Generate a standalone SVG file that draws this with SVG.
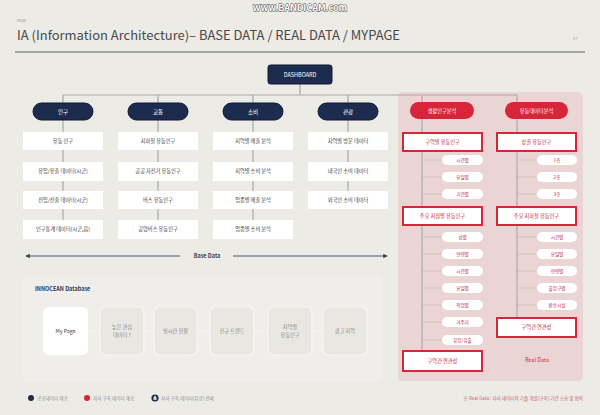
<svg xmlns="http://www.w3.org/2000/svg" width="600" height="415" viewBox="0 0 600 415">
  <style>
    text { font-family: "Noto Sans CJK KR", "Noto Sans", "Liberation Sans", sans-serif; }
    .bg { fill: #ecebe6; }
    .navy { fill: #1d2c4e; stroke: #0f1a33; stroke-width: 1; }
    .navy-t { fill: #ffffff; font-size: 5.5px; text-anchor: middle; }
    .box { fill: #ffffff; }
    .box-t { fill: #3a3a3a; font-size: 5.2px; text-anchor: middle; }
    .redpill { fill: #d7253a; }
    .red-t { fill: #ffffff; font-size: 5.2px; text-anchor: middle; }
    .redbox { fill: #ffffff; stroke: #d7253a; stroke-width: 2; }
    .redbox-t { fill: #c4243a; font-size: 5.2px; text-anchor: middle; }
    .sub { fill: #ffffff; }
    .sub-t { fill: #c4243a; font-size: 4.6px; text-anchor: middle; }
    .link { stroke: #a9a9a9; stroke-width: 1.2; fill: none; }
    .spine { stroke: #b9b6b6; stroke-width: 1.6; fill: none; }
    .branch { stroke: #b9b6b6; stroke-width: 1; stroke-dasharray: 1.5 1; fill: none; }
    .card { fill: #e9e7e2; stroke: #f7f6f3; stroke-width: 1.2; }
    .card-t { fill: #8a8883; font-size: 5.2px; text-anchor: middle; }
    .legend-t { fill: #8b8b8b; font-size: 4.6px; }
  </style>
  <defs>
    <marker id="arrow" viewBox="0 0 6 6" refX="5" refY="3" markerWidth="5" markerHeight="5" orient="auto-start-reverse">
      <path d="M0,0 L6,3 L0,6 z" fill="#3d4250"/>
    </marker>
  </defs>

  <rect class="bg" x="0" y="0" width="600" height="415"/>

  <!-- capture watermark -->
  <text x="300" y="11" font-size="9" font-weight="bold" text-anchor="middle" fill="#ffffff" stroke="#333333" stroke-width="0.8" paint-order="stroke" font-family="Liberation Sans, sans-serif">www.BANDICAM.com</text>

  <!-- header -->
  <g id="header">
    <text x="17" y="22" font-size="4" fill="#9a9a9a" font-family="Liberation Sans, sans-serif">NOW</text>
    <text x="17" y="40" font-size="12.5" fill="#4a4a4a" textLength="383" lengthAdjust="spacingAndGlyphs" font-family="Liberation Sans, sans-serif">IA (Information Architecture)– BASE DATA / REAL DATA / MYPAGE</text>
    <text x="573" y="40" font-size="4" fill="#a5a5a5" font-family="Liberation Sans, sans-serif">07</text>
    <line x1="15" y1="52" x2="585" y2="52" stroke="#8e8e8e" stroke-width="1.6"/>
  </g>

  <!-- real data area -->
  <rect x="398" y="92" width="185" height="289" rx="5" fill="#ebd5d4"/>

  <!-- base data panel -->
  <rect x="23" y="276" width="359" height="106" rx="4" fill="#efeeea"/>

  <!-- connectors -->
  <g id="connectors">
    <path class="link" d="M300,84 V95 M63,95 H517 M63,95 V103 M158,95 V103 M253,95 V103 M348,95 V103"/>
    <path class="link" d="M63,120 V132 M63,150 V162 M63,181 V191 M63,209 V220"/>
    <path class="link" d="M158,120 V132 M158,150 V162 M158,181 V191 M158,209 V220"/>
    <path class="link" d="M253,120 V132 M253,150 V162 M253,181 V191 M253,209 V220"/>
    <path class="link" d="M348,120 V132 M348,150 V162 M348,181 V191"/>
    <path class="spine" d="M422,95 V350 M517,95 V317"/>
    <path class="branch" d="M422,160 H442 M422,177 H442 M422,194 H442 M422,237 H442 M422,254 H442 M422,271 H442 M422,288 H442 M422,305 H442 M422,322 H442 M422,340 H442"/>
    <path class="branch" d="M517,160 H537 M517,177 H537 M517,194 H537 M517,237 H537 M517,254 H537 M517,271 H537 M517,288 H537 M517,305 H537"/>
    <path d="M88,331 H100 M144,331 H154 M197,331 H210 M254,331 H268 M312,331 H323" stroke="#f7f6f3" stroke-width="1.2" fill="none"/>
    <line x1="26" y1="256" x2="180" y2="256" stroke="#3d4250" stroke-width="0.9" marker-start="url(#arrow)"/>
    <line x1="233" y1="256" x2="387" y2="256" stroke="#3d4250" stroke-width="0.9" marker-end="url(#arrow)"/>
  </g>
  <text x="207" y="258" font-size="5.5" font-weight="bold" fill="#3d4250" text-anchor="middle" font-family="Liberation Sans, sans-serif">Base Data</text>

  <!-- root -->
  <g id="root">
    <rect class="navy" x="268" y="65" width="64" height="19" rx="2.5"/>
    <text class="navy-t" x="300" y="76.5" font-size="4.6" font-family="Liberation Sans, sans-serif">DASHBOARD</text>
  </g>

  <!-- category pills -->
  <g id="cat-population"><rect class="navy" x="33" y="103" width="60" height="17" rx="8.5"/><text class="navy-t" x="63" y="113.5">인구</text></g>
  <g id="cat-traffic"><rect class="navy" x="128" y="103" width="60" height="17" rx="8.5"/><text class="navy-t" x="158" y="113.5">교통</text></g>
  <g id="cat-consume"><rect class="navy" x="223" y="103" width="60" height="17" rx="8.5"/><text class="navy-t" x="253" y="113.5">소비</text></g>
  <g id="cat-tour"><rect class="navy" x="318" y="103" width="60" height="17" rx="8.5"/><text class="navy-t" x="348" y="113.5">관광</text></g>

  <!-- population items -->
  <g id="pop-1"><rect class="box" x="23" y="132" width="80" height="18"/><text class="box-t" x="63" y="142.8">유동 인구</text></g>
  <g id="pop-2"><rect class="box" x="23" y="162" width="80" height="19"/><text class="box-t" x="63" y="173.3">유입/유출 데이터(시군)</text></g>
  <g id="pop-3"><rect class="box" x="23" y="191" width="80" height="18"/><text class="box-t" x="63" y="201.8">전입/전출 데이터(시군)</text></g>
  <g id="pop-4"><rect class="box" x="23" y="220" width="80" height="19"/><text class="box-t" x="63" y="231.3">인구통계 데이터(시군,읍)</text></g>

  <!-- traffic items -->
  <g id="tra-1"><rect class="box" x="118" y="132" width="80" height="18"/><text class="box-t" x="158" y="142.8">지하철 유동인구</text></g>
  <g id="tra-2"><rect class="box" x="118" y="162" width="80" height="19"/><text class="box-t" x="158" y="173.3">공공 자전거 유동인구</text></g>
  <g id="tra-3"><rect class="box" x="118" y="191" width="80" height="18"/><text class="box-t" x="158" y="201.8">버스 유동인구</text></g>
  <g id="tra-4"><rect class="box" x="118" y="220" width="80" height="19"/><text class="box-t" x="158" y="231.3">공영버스 유동인구</text></g>

  <!-- consumption items -->
  <g id="con-1"><rect class="box" x="213" y="132" width="80" height="18"/><text class="box-t" x="253" y="142.8">지역별 매출 분석</text></g>
  <g id="con-2"><rect class="box" x="213" y="162" width="80" height="19"/><text class="box-t" x="253" y="173.3">지역별 소비 분석</text></g>
  <g id="con-3"><rect class="box" x="213" y="191" width="80" height="18"/><text class="box-t" x="253" y="201.8">업종별 매출 분석</text></g>
  <g id="con-4"><rect class="box" x="213" y="220" width="80" height="19"/><text class="box-t" x="253" y="231.3">업종별 소비 분석</text></g>

  <!-- tourism items -->
  <g id="tour-1"><rect class="box" x="308" y="132" width="80" height="18"/><text class="box-t" x="348" y="142.8">지역별 방문 데이터</text></g>
  <g id="tour-2"><rect class="box" x="308" y="162" width="80" height="19"/><text class="box-t" x="348" y="173.3">내국인 소비 데이터</text></g>
  <g id="tour-3"><rect class="box" x="308" y="191" width="80" height="18"/><text class="box-t" x="348" y="201.8">외국인 소비 데이터</text></g>

  <!-- real data: column 1 -->
  <g id="real-a"><rect class="redpill" x="410" y="102" width="64" height="17" rx="8.5"/><text class="red-t" x="442" y="112.5">생활인구분석</text></g>
  <g id="real-a-1"><rect class="redbox" x="403" y="133" width="79" height="18"/><text class="redbox-t" x="442.5" y="143.8">구역별 유동인구</text></g>
  <g id="real-a-1a"><rect class="sub" x="442" y="155" width="41" height="10" rx="5"/><text class="sub-t" x="462.5" y="161.6">시간별</text></g>
  <g id="real-a-1b"><rect class="sub" x="442" y="172" width="41" height="10" rx="5"/><text class="sub-t" x="462.5" y="178.6">요일별</text></g>
  <g id="real-a-1c"><rect class="sub" x="442" y="189" width="41" height="10" rx="5"/><text class="sub-t" x="462.5" y="195.6">기간별</text></g>
  <g id="real-a-2"><rect class="redbox" x="403" y="207" width="79" height="18"/><text class="redbox-t" x="442.5" y="217.8">주요 지점별 유동인구</text></g>
  <g id="real-a-2a"><rect class="sub" x="442" y="232" width="41" height="10" rx="5"/><text class="sub-t" x="462.5" y="238.6">성별</text></g>
  <g id="real-a-2b"><rect class="sub" x="442" y="249" width="41" height="10" rx="5"/><text class="sub-t" x="462.5" y="255.6">연령별</text></g>
  <g id="real-a-2c"><rect class="sub" x="442" y="266" width="41" height="10" rx="5"/><text class="sub-t" x="462.5" y="272.6">시간별</text></g>
  <g id="real-a-2d"><rect class="sub" x="442" y="283" width="41" height="10" rx="5"/><text class="sub-t" x="462.5" y="289.6">요일별</text></g>
  <g id="real-a-2e"><rect class="sub" x="442" y="300" width="41" height="10" rx="5"/><text class="sub-t" x="462.5" y="306.6">직업별</text></g>
  <g id="real-a-2f"><rect class="sub" x="442" y="317" width="41" height="10" rx="5"/><text class="sub-t" x="462.5" y="323.6">거주지</text></g>
  <g id="real-a-2g"><rect class="sub" x="442" y="335" width="41" height="10" rx="5"/><text class="sub-t" x="462.5" y="341.6">유입/유출</text></g>
  <g id="real-a-3"><rect class="redbox" x="403" y="351" width="79" height="20"/><text class="redbox-t" x="442.5" y="362.8">구역간 연관성</text></g>

  <!-- real data: column 2 -->
  <g id="real-b"><rect class="redpill" x="505" y="102" width="63" height="17" rx="8.5"/><text class="red-t" x="536.5" y="112.5">유동데이터분석</text></g>
  <g id="real-b-1"><rect class="redbox" x="497" y="133" width="79" height="18"/><text class="redbox-t" x="536.5" y="143.8">상권 유동인구</text></g>
  <g id="real-b-1a"><rect class="sub" x="537" y="155" width="40" height="10" rx="5"/><text class="sub-t" x="557" y="161.6">1층</text></g>
  <g id="real-b-1b"><rect class="sub" x="537" y="172" width="40" height="10" rx="5"/><text class="sub-t" x="557" y="178.6">2층</text></g>
  <g id="real-b-1c"><rect class="sub" x="537" y="189" width="40" height="10" rx="5"/><text class="sub-t" x="557" y="195.6">3층</text></g>
  <g id="real-b-2"><rect class="redbox" x="497" y="207" width="79" height="18"/><text class="redbox-t" x="536.5" y="217.8">주요 지하철 유동인구</text></g>
  <g id="real-b-2a"><rect class="sub" x="537" y="232" width="40" height="10" rx="5"/><text class="sub-t" x="557" y="238.6">시간별</text></g>
  <g id="real-b-2b"><rect class="sub" x="537" y="249" width="40" height="10" rx="5"/><text class="sub-t" x="557" y="255.6">요일별</text></g>
  <g id="real-b-2c"><rect class="sub" x="537" y="266" width="40" height="10" rx="5"/><text class="sub-t" x="557" y="272.6">연령별</text></g>
  <g id="real-b-2d"><rect class="sub" x="537" y="283" width="40" height="10" rx="5"/><text class="sub-t" x="557" y="289.6">출입구별</text></g>
  <g id="real-b-2e"><rect class="sub" x="537" y="300" width="40" height="10" rx="5"/><text class="sub-t" x="557" y="306.6">환승시설</text></g>
  <g id="real-b-3"><rect class="redbox" x="497" y="318" width="79" height="19"/><text class="redbox-t" x="536.5" y="329.3">구역간 연관성</text></g>
  <text x="537" y="362" font-size="5.5" fill="#d0283b" text-anchor="middle" font-family="Liberation Sans, sans-serif">Real Data</text>

  <!-- base data panel content -->
  <text x="35" y="291" font-size="5.5" font-weight="bold" fill="#2d3a5c" font-family="Liberation Sans, sans-serif">INNOCEAN Database</text>
  <g id="card-mypage"><rect x="43" y="307" width="45" height="48" rx="6" fill="#ffffff"/><text class="card-t" x="65.5" y="333" style="fill:#3a3a3a">My Page</text></g>
  <g id="card-2"><rect class="card" x="100" y="307" width="44" height="48" rx="6"/><text class="card-t" x="122" y="329">높은 관심</text><text class="card-t" x="122" y="337">데이터 ?</text></g>
  <g id="card-3"><rect class="card" x="154" y="307" width="43" height="48" rx="6"/><text class="card-t" x="175.5" y="333">실시간 현황</text></g>
  <g id="card-4"><rect class="card" x="210" y="307" width="44" height="48" rx="6"/><text class="card-t" x="232" y="333">신규 트렌드</text></g>
  <g id="card-5"><rect class="card" x="268" y="307" width="44" height="48" rx="6"/><text class="card-t" x="290" y="329">지역별</text><text class="card-t" x="290" y="337">유동인구</text></g>
  <g id="card-6"><rect class="card" x="323" y="307" width="44" height="48" rx="6"/><text class="card-t" x="345" y="333">광고 지역</text></g>

  <!-- legend -->
  <g id="legend">
    <circle cx="31" cy="398" r="3" fill="#1d2c4e"/>
    <text class="legend-t" x="37" y="399.6">공공데이터 제공</text>
    <circle cx="87" cy="398" r="3" fill="#d7253a"/>
    <text class="legend-t" x="93" y="399.6">자사 구축 데이터 제공</text>
    <circle cx="155" cy="398" r="3.6" fill="#1d2c4e"/>
    <circle cx="155" cy="397.3" r="1.2" fill="#ecebe6"/>
    <rect x="153.4" y="398.2" width="3.2" height="1.6" fill="#ecebe6"/>
    <text class="legend-t" x="161" y="399.6">자사 구축 데이터(유료) 판매</text>
    <text x="583" y="399.6" font-size="4.6" fill="#d45a66" text-anchor="end">※ Real Data : 자사 데이터와 기술 개발(구축) 기간 소요 및 협력</text>
  </g>
</svg>
